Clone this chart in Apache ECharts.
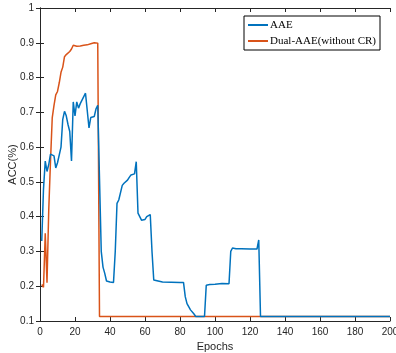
<!DOCTYPE html>
<html>
<head>
<meta charset="utf-8">
<script src="https://cdn.jsdelivr.net/npm/echarts@6/dist/echarts.min.js"></script>
<style>
  html, body { margin: 0; padding: 0; background: #fff; }
  #chart { width: 396px; height: 353px; }
</style>
</head>
<body>
<div id="chart"></div>
<script>
// AAE curve (epoch, accuracy)
const aaeEpochs = [1, 2, 3, 4, 5, 6, 7, 8, 9, 10, 11, 12, 13, 14, 15, 16, 17, 18, 19, 20,
  21, 22, 23, 24, 25, 26, 27, 28, 29, 30, 31, 32, 33, 34, 35, 36, 37, 38, 40, 42,
  43, 44, 45, 46, 47, 48, 49, 50, 51, 52, 53, 54, 55, 56, 57, 58, 59, 60, 61, 62,
  63, 64, 65, 66, 70, 80, 82, 83, 84, 86, 88, 89, 94, 95, 97, 100, 104, 108, 109, 110,
  112, 113, 115, 120, 124, 125, 126, 200];
const aaeAcc = [0.33, 0.48, 0.56, 0.53, 0.55, 0.58, 0.58, 0.575, 0.54, 0.555, 0.555, 0.6, 0.68, 0.703, 0.69, 0.665, 0.645, 0.56, 0.73, 0.69,
  0.73, 0.712, 0.725, 0.735, 0.745, 0.755, 0.75, 0.655, 0.685, 0.685, 0.688, 0.71, 0.72, 0.72, 0.3, 0.255, 0.237, 0.215, 0.212, 0.211,
  0.3, 0.438, 0.448, 0.448, 0.49, 0.496, 0.498, 0.505, 0.513, 0.52, 0.522, 0.523, 0.558, 0.41, 0.4, 0.39, 0.39, 0.392, 0.4, 0.405,
  0.406, 0.3, 0.218, 0.213, 0.212, 0.211, 0.211, 0.17, 0.15, 0.132, 0.12, 0.113, 0.113, 0.203, 0.205, 0.206, 0.208, 0.207, 0.3, 0.31,
  0.308, 0.31, 0.308, 0.307, 0.307, 0.333, 0.113, 0.113];

// Dual-AAE (without CR) curve
const dualEpochs = [1, 2, 3, 4, 5, 6, 7, 8, 9, 10, 11, 12, 13, 14, 15, 16, 17, 18, 19, 20,
  21, 22, 23, 24, 25, 26, 27, 28, 29, 30, 31, 32, 33, 34, 200];
const dualAcc = [0.205, 0.197, 0.352, 0.21, 0.42, 0.56, 0.685, 0.72, 0.75, 0.76, 0.785, 0.815, 0.83, 0.86, 0.866, 0.868, 0.875, 0.882, 0.893, 0.889,
  0.89, 0.892, 0.891, 0.894, 0.893, 0.895, 0.894, 0.896, 0.897, 0.896, 0.9, 0.901, 0.899, 0.113, 0.113];

const seriesNames = ["AAE", "Dual-AAE(without CR)"];
const xTicks = { min: 0, max: 200, step: 20 };
const yTicks = { min: 0.1, max: 1, step: 0.1 };

const pair = (xs, ys) => xs.map((x, i) => [x, ys[i]]);

const chart = echarts.init(document.getElementById("chart"), null, { renderer: "canvas" });

const axisColor = "#262626";
const labelFont = { color: axisColor, fontSize: 10, fontFamily: "Liberation Sans" };

chart.setOption({
  backgroundColor: "#fff",
  animation: false,
  grid: { left: 40, right: 6, top: 8, bottom: 32, containLabel: false, outerBoundsMode: "none" },
  legend: {
    data: seriesNames,
    orient: "vertical",
    left: 244,
    top: 16,
    padding: [2, 4, 2, 4],
    itemGap: 2,
    itemWidth: 20,
    itemHeight: 2,
    icon: "rect",
    backgroundColor: "#fff",
    borderColor: "#000",
    borderWidth: 1,
    textStyle: { color: "#000", fontSize: 11, lineHeight: 14, fontFamily: "Liberation Serif", padding: [0, 0, 0, -3] },
  },
  xAxis: [
    {
      type: "value",
      min: xTicks.min,
      max: xTicks.max,
      interval: xTicks.step,
      name: "Epochs",
      nameLocation: "middle",
      nameGap: 20,
      nameMoveOverlap: false,
      nameTextStyle: { color: axisColor, fontSize: 11, fontFamily: "Liberation Sans" },
      axisLine: { lineStyle: { color: axisColor, width: 1 } },
      axisTick: { inside: true, length: 4, lineStyle: { color: axisColor } },
      axisLabel: { ...labelFont, margin: 6 },
      splitLine: { show: false },
    },
    {
      type: "value",
      position: "top",
      min: xTicks.min,
      max: xTicks.max,
      interval: xTicks.step,
      axisLine: { lineStyle: { color: axisColor, width: 1 } },
      axisTick: { inside: true, length: 4, lineStyle: { color: axisColor } },
      axisLabel: { show: false },
      splitLine: { show: false },
    },
  ],
  yAxis: [
    {
      type: "value",
      min: yTicks.min,
      max: yTicks.max,
      interval: yTicks.step,
      name: "ACC(%)",
      nameLocation: "middle",
      nameGap: 22,
      nameMoveOverlap: false,
      nameTextStyle: { color: axisColor, fontSize: 11, fontFamily: "Liberation Sans" },
      axisLine: { show: true, lineStyle: { color: axisColor, width: 1 } },
      axisTick: { show: true, inside: true, length: 4, lineStyle: { color: axisColor } },
      axisLabel: { ...labelFont, margin: 6, formatter: (v) => String(+v.toFixed(1)) },
      splitLine: { show: false },
    },
    {
      type: "value",
      position: "right",
      min: yTicks.min,
      max: yTicks.max,
      interval: yTicks.step,
      axisLine: { show: true, lineStyle: { color: axisColor, width: 1 } },
      axisTick: { show: true, inside: true, length: 4, lineStyle: { color: axisColor } },
      axisLabel: { show: false },
      splitLine: { show: false },
    },
  ],
  series: [
    {
      name: seriesNames[0],
      type: "line",
      data: pair(aaeEpochs, aaeAcc),
      showSymbol: false,
      symbol: "none",
      lineStyle: { color: "#0072BD", width: 1.5 },
      itemStyle: { color: "#0072BD" },
      z: 3,
    },
    {
      name: seriesNames[1],
      type: "line",
      data: pair(dualEpochs, dualAcc),
      showSymbol: false,
      symbol: "none",
      lineStyle: { color: "#D95319", width: 1.5 },
      itemStyle: { color: "#D95319" },
      z: 2,
    },
  ],
});
</script>
</body>
</html>
